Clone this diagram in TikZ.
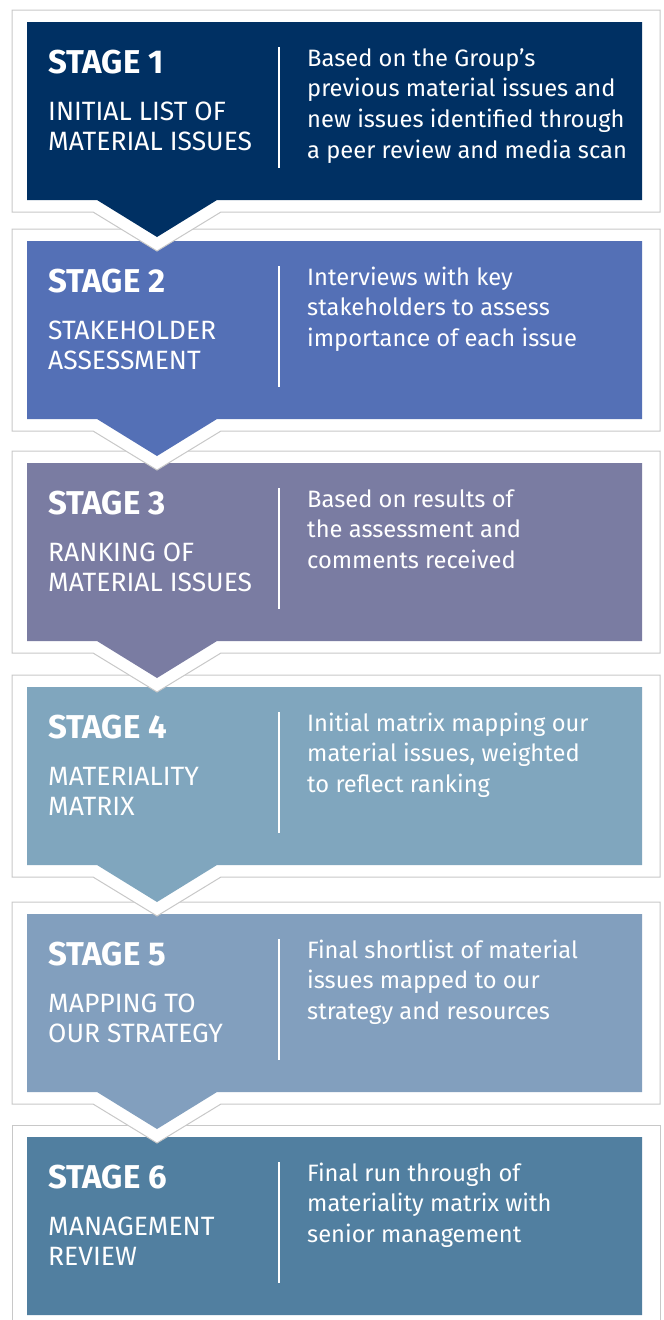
\documentclass[tikz,border=0pt]{standalone}
\usepackage{fontspec}
\setmainfont{Fira Sans}
\definecolor{st1}{HTML}{003063}
\definecolor{st2}{HTML}{5470B6}
\definecolor{st3}{HTML}{7A7CA2}
\definecolor{st4}{HTML}{80A6BE}
\definecolor{st5}{HTML}{829FBE}
\definecolor{st6}{HTML}{517FA0}
\definecolor{frameline}{HTML}{C8C8C8}

\begin{document}
\begin{tikzpicture}[x=1pt,y=-1pt,
        frame/.style={fill=white, draw=frameline, line width=1pt},
        stagetitle/.style={anchor=base west, inner sep=0, text=white, font=\fontsize{33}{36}\selectfont\bfseries},
        stagelabel/.style={anchor=base west, inner sep=0, text=white, align=left, font=\fontsize{26.5}{30}\selectfont},
        stagedesc/.style={anchor=base west, inner sep=0, text=white, align=left, font=\fontsize{23.7}{30.7}\selectfont}]
        \useasboundingbox (0,0) rectangle (664,1320);

        % stages are drawn from the bottom up, so each pointer lies over the next frame
        \foreach \i/\y/\tip/\n/\lab/\desc in {
                6/1137/0/3/{MANAGEMENT\\REVIEW}/{Final run through of\\materiality matrix with\\senior management},
                5/914/37/3/{MAPPING TO\\OUR STRATEGY}/{Final shortlist of material\\issues mapped to our\\strategy and resources},
                4/687/37/3/{MATERIALITY\\MATRIX}/{Initial matrix mapping our\\material issues, weighted\\to reflect ranking},
                3/463/37/3/{RANKING OF\\MATERIAL ISSUES}/{Based on results of\\the assessment and\\comments received},
                2/241/37/3/{STAKEHOLDER\\ASSESSMENT}/{Interviews with key\\stakeholders to assess\\importance of each issue},
                1/22/37/4/{INITIAL LIST OF\\MATERIAL ISSUES}/{Based on the Group’s\\previous material issues and\\new issues identified through\\a peer review and media scan}}
        {
            \draw[frame] (12,{\y-12}) -- (660,{\y-12}) -- (660,{\y+190}) -- (221,{\y+190})
                -- (157,{\y+190+1.054*\tip}) -- (93,{\y+190}) -- (12,{\y+190}) -- cycle;
            \fill[st\i] (27,\y) -- (642,\y) -- (642,{\y+178}) -- (217,{\y+178})
                -- (157,{\y+178+\tip}) -- (97,{\y+178}) -- (27,{\y+178}) -- cycle;
            \draw[white, line width=2pt] (279,{\y+25}) -- (279,{\y+146});
            \node[stagetitle] (title\i) at (48,{\y+51}) {STAGE \i};
            \node[stagelabel] (label\i) at (48,{\y+128}) {\lab};
            \node[stagedesc] (desc\i) at (307,{\y+44+30.7*(\n-1)}) {\desc};
        }
\end{tikzpicture}
\end{document}
